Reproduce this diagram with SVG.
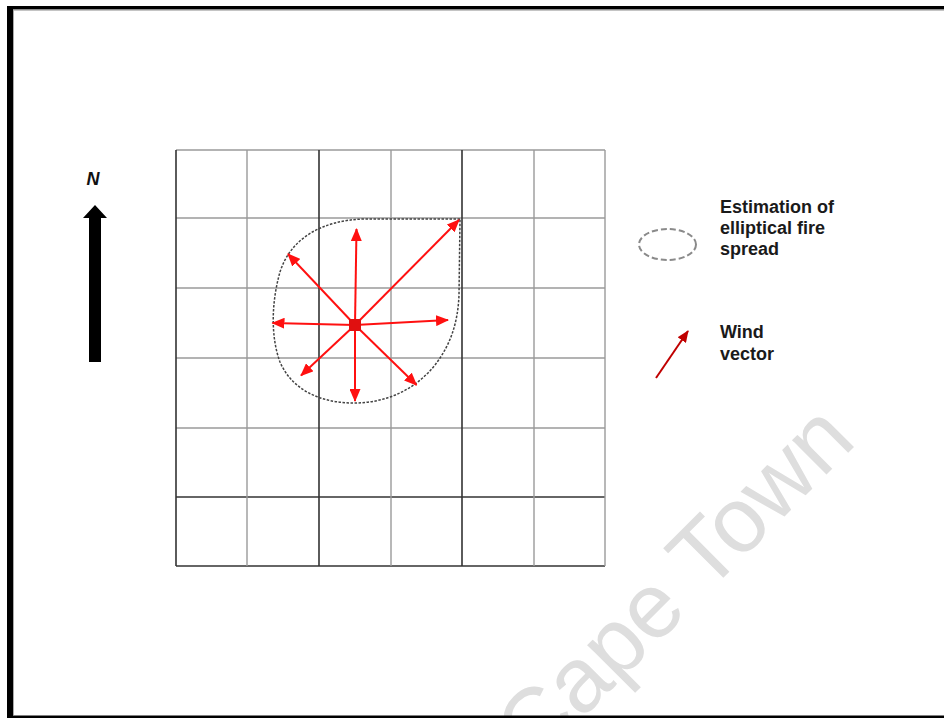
<svg xmlns="http://www.w3.org/2000/svg" width="944" height="718" viewBox="0 0 944 718">
<style>
.g{stroke:#9a9a9a;stroke-width:1.4;fill:none}
.d{stroke:#333;stroke-width:1.6;fill:none}
.r{stroke:#ff1010;stroke-width:2;fill:none}
.t{font-family:"Liberation Sans",Arial,sans-serif;font-weight:bold;font-size:18px;fill:#1a1a1a}
</style>
<defs>
<marker id="ah" markerUnits="userSpaceOnUse" markerWidth="13" markerHeight="11" refX="12" refY="5.5" orient="auto">
<path d="M0,0 L13,5.5 L0,11 z" fill="#ff1010"/>
</marker>
<marker id="ahw" markerUnits="userSpaceOnUse" markerWidth="12" markerHeight="10" refX="11" refY="5" orient="auto">
<path d="M0,0 L12,5 L0,10 z" fill="#c00000"/>
</marker>
</defs>
<rect width="944" height="718" fill="#fff"/>
<text transform="translate(534,767) rotate(-45)" font-family="Liberation Sans,Arial,sans-serif" font-size="92" fill="#dedede">Cape Town</text>
<g id="frame">
<rect x="7" y="6" width="6" height="712" fill="#000"/>
<rect x="7" y="6" width="937" height="3.5" fill="#000"/>
<rect x="7" y="715.5" width="937" height="2.5" fill="#000"/>
<line x1="13.5" y1="10" x2="13.5" y2="715" stroke="#aaa" stroke-width="1"/>
<line x1="13" y1="10.2" x2="944" y2="10.2" stroke="#aaa" stroke-width="1"/>
</g>
<g id="grid">
<line class="g" x1="176" y1="150" x2="605" y2="150"/>
<line class="g" x1="176" y1="218" x2="605" y2="218"/>
<line class="g" x1="176" y1="288" x2="605" y2="288"/>
<line class="g" x1="176" y1="358" x2="605" y2="358"/>
<line class="g" x1="176" y1="428" x2="605" y2="428"/>
<line class="d" x1="176" y1="497" x2="605" y2="497"/>
<line class="d" x1="176" y1="566" x2="605" y2="566"/>
<line class="d" x1="176" y1="150" x2="176" y2="566"/>
<line class="g" x1="247" y1="150" x2="247" y2="566"/>
<line class="d" x1="319" y1="150" x2="319" y2="566"/>
<line class="g" x1="391" y1="150" x2="391" y2="566"/>
<line class="d" x1="462" y1="150" x2="462" y2="566"/>
<line class="g" x1="534" y1="150" x2="534" y2="566"/>
<line class="g" x1="605" y1="150" x2="605" y2="566"/>
</g>
<g id="fire-outline">
<path d="M460,219 L365,219 C320,220 290,240 280,272 C272,300 270,335 280,362 C292,390 320,402 350,403 C385,404 415,390 435,365 C452,343 458,320 459,295 L460,219 Z" fill="none" stroke="#444" stroke-width="1.5" stroke-dasharray="2.5,1.5"/>
</g>
<g id="connectors">
<line class="r" x1="355" y1="325" x2="356.5" y2="229" marker-end="url(#ah)"/>
<line class="r" x1="355" y1="325" x2="355" y2="401" marker-end="url(#ah)"/>
<line class="r" x1="355" y1="325" x2="272.5" y2="323" marker-end="url(#ah)"/>
<line class="r" x1="355" y1="325" x2="448" y2="320" marker-end="url(#ah)"/>
<line class="r" x1="355" y1="325" x2="288" y2="254" marker-end="url(#ah)"/>
<line class="r" x1="355" y1="325" x2="459" y2="220" marker-end="url(#ah)"/>
<line class="r" x1="355" y1="325" x2="301" y2="375.5" marker-end="url(#ah)"/>
<line class="r" x1="355" y1="325" x2="416.5" y2="385" marker-end="url(#ah)"/>
</g>
<g id="fire-source">
<rect x="349" y="319" width="12" height="12" fill="#e01010"/>
</g>
<g id="north">
<text x="93" y="185" text-anchor="middle" font-family="Liberation Sans,Arial,sans-serif" font-weight="bold" font-style="italic" font-size="18" fill="#111">N</text>
<path d="M95,205 L107,218 L101,218 L101,362 L89,362 L89,218 L83,218 Z" fill="#000"/>
</g>
<g id="legend-ellipse">
<ellipse cx="667.5" cy="244.5" rx="28.5" ry="15.5" fill="none" stroke="#8a8a8a" stroke-width="2" stroke-dasharray="6,3"/>
<text class="t" x="720" y="213">Estimation of</text>
<text class="t" x="720" y="234">elliptical fire</text>
<text class="t" x="720" y="255">spread</text>
</g>
<g id="legend-wind">
<line x1="656" y1="378" x2="688" y2="331" stroke="#c00000" stroke-width="2" marker-end="url(#ahw)"/>
<text class="t" x="720" y="338">Wind</text>
<text class="t" x="720" y="360">vector</text>
</g>
</svg>
